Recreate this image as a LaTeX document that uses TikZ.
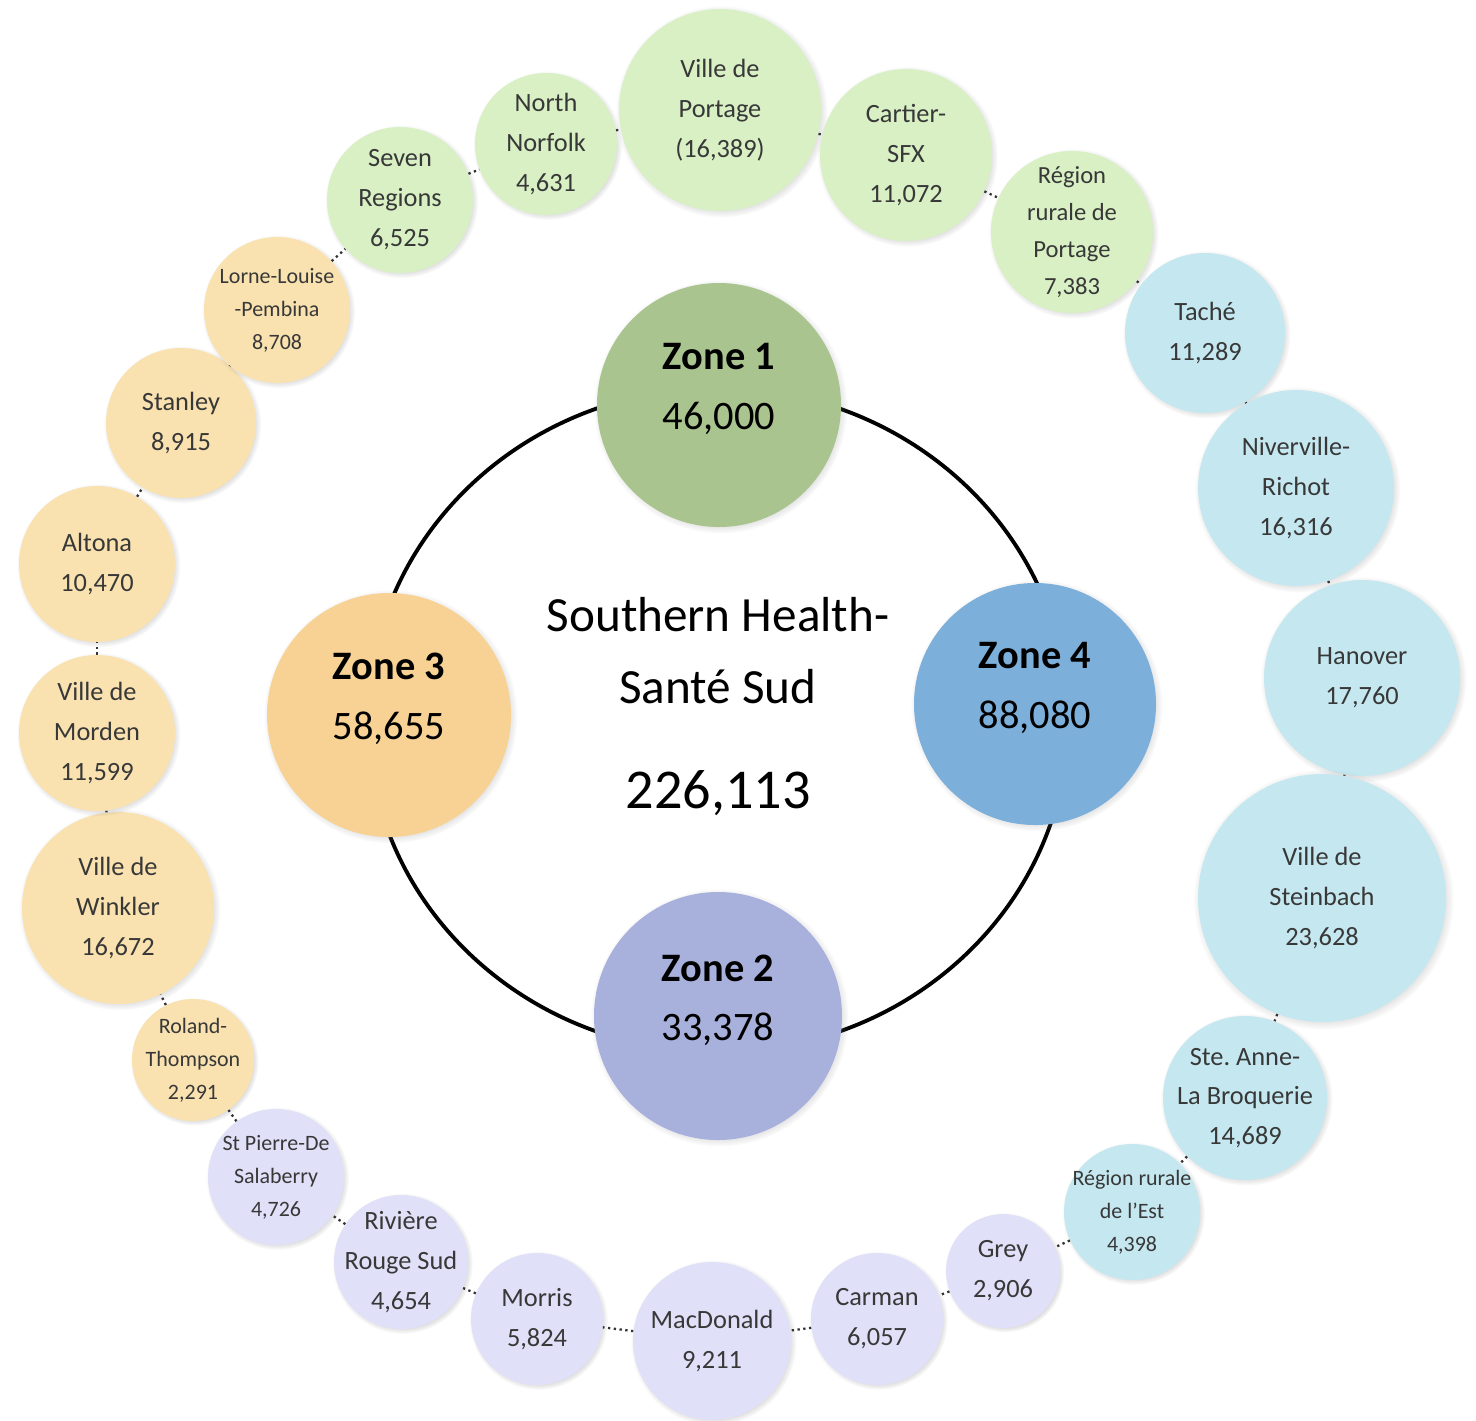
\documentclass[tikz,border=0pt]{standalone}
\usepackage{fontspec}
\setmainfont{Carlito}
\usepackage{tikz}
\usetikzlibrary{shadows,calc}
\frenchspacing
\newcommand{\pxunit}{0.02cm}
\newcommand{\townfont}{\fontsize{15}{22.7}\selectfont}
\newcommand{\smalltownfont}{\fontsize{12.5}{18.7}\selectfont}
\newcommand{\zonefont}{\fontsize{23}{34}\selectfont}
\definecolor{zoneone}{HTML}{A9C48E}
\definecolor{zonetwo}{HTML}{A8B0DC}
\definecolor{zonethree}{HTML}{F7D294}
\definecolor{zonefour}{HTML}{7DAFDB}
\definecolor{townone}{HTML}{D8F0C4}
\definecolor{towntwo}{HTML}{E0E0F8}
\definecolor{townthree}{HTML}{F9E2B0}
\definecolor{townfour}{HTML}{C5E8F0}
\definecolor{towntext}{HTML}{383838}
\tikzset{
    node style town/.style={circle,inner sep=-1cm,align=center,text=towntext,font=\townfont,
        circular drop shadow={shadow xshift=0.8pt,shadow yshift=-0.8pt,shadow scale=1.05,opacity=0.45}},
    node style zone/.style={circle,inner sep=0pt,
        circular drop shadow={shadow xshift=0.8pt,shadow yshift=-0.8pt,shadow scale=1.04,opacity=0.5}},
    node style zone text/.style={align=center,font=\zonefont,inner sep=0pt},
    line style link/.style={dotted,line width=1.3pt,black!80},
}

\begin{document}
\begin{tikzpicture}[x=\pxunit,y=-\pxunit]
  \useasboundingbox (0,0) rectangle (1476,1420);

  % the ring joining the four zones
  \draw [line width=2.2pt] (718,720) ellipse [x radius=350, y radius=332];

  \node [node style zone,fill=zoneone,minimum size=244*\pxunit] (zone1) at (719,405) {};
  \node [node style zone,fill=zonethree,minimum size=244*\pxunit] (zone3) at (389,715) {};
  \node [node style zone,fill=zonefour,minimum size=242*\pxunit] (zone4) at (1035,704) {};
  \node [node style zone,fill=zonetwo,minimum size=248*\pxunit] (zone2) at (718,1016) {};

  \node [node style zone text] (zone1 text) at ([yshift=9pt]zone1.center) {\textbf{Zone 1}\\46,000};
  \node [node style zone text] (zone3 text) at ([yshift=9pt]zone3.center) {\textbf{Zone 3}\\58,655};
  \node [node style zone text] (zone4 text) at ([yshift=9pt]zone4.center) {\textbf{Zone 4}\\88,080};
  \node [node style zone text] (zone2 text) at ([yshift=9pt]zone2.center) {\textbf{Zone 2}\\33,378};

  \node [align=center,font=\fontsize{28}{41}\selectfont] (title) at (718,651) {Southern Health-\\Santé Sud};
  \node [font=\fontsize{32}{38}\selectfont] (total) at (718,793) {226,113};

  % zone 1
  \node [node style town,fill=townone,minimum size=146*\pxunit] (sevenreg) at (400,200) {Seven\\Regions\\6,525};
  \node [node style town,fill=townone,minimum size=142*\pxunit] (nnorfolk) at (546,144) {North\\Norfolk\\4,631};
  \node [node style town,fill=townone,minimum size=202*\pxunit] (portage) at (720,110) {Ville de\\Portage\\(16,389)};
  \node [node style town,fill=townone,minimum size=172*\pxunit] (cartier) at (906,155) {Cartier-\\SFX\\11,072};
  \node [node style town,fill=townone,minimum size=162*\pxunit,font=\fontsize{14}{21}\selectfont] (rmportage) at (1072,232) {Région\\rurale de\\Portage\\7,383};
  % zone 4
  \node [node style town,fill=townfour,minimum size=160*\pxunit] (tache) at (1205,333) {Taché\\11,289};
  \node [node style town,fill=townfour,minimum size=196*\pxunit] (niverville) at (1296,488) {Niverville-\\Richot\\16,316};
  \node [node style town,fill=townfour,minimum size=196*\pxunit] (hanover) at (1362,678) {Hanover\\17,760};
  \node [node style town,fill=townfour,minimum size=248*\pxunit] (steinbach) at (1322,898) {Ville de\\Steinbach\\23,628};
  \node [node style town,fill=townfour,minimum size=164*\pxunit] (steanne) at (1245,1098) {Ste. Anne-\\La Broquerie\\14,689};
  \node [node style town,fill=townfour,minimum size=136*\pxunit,font=\smalltownfont] (rmest) at (1132,1212) {Région rurale\\de l'Est\\4,398};
  % zone 2
  \node [node style town,fill=towntwo,minimum size=114*\pxunit] (grey) at (1003,1271) {Grey\\2,906};
  \node [node style town,fill=towntwo,minimum size=132*\pxunit] (carman) at (877,1319) {Carman\\6,057};
  \node [node style town,fill=towntwo,minimum size=158*\pxunit] (macdonald) at (712,1341) {MacDonald\\9,211};
  \node [node style town,fill=towntwo,minimum size=132*\pxunit] (morris) at (537,1319) {Morris\\5,824};
  \node [node style town,fill=towntwo,minimum size=134*\pxunit] (rougesud) at (401,1262) {Rivière\\Rouge Sud\\4,654};
  \node [node style town,fill=towntwo,minimum size=136*\pxunit,font=\smalltownfont] (stpierre) at (276,1177) {St Pierre-De\\Salaberry\\4,726};
  % zone 3
  \node [node style town,fill=townthree,minimum size=122*\pxunit,font=\smalltownfont] (roland) at (193,1060) {Roland-\\Thompson\\2,291};
  \node [node style town,fill=townthree,minimum size=192*\pxunit] (winkler) at (118,908) {Ville de\\Winkler\\16,672};
  \node [node style town,fill=townthree,minimum size=156*\pxunit] (morden) at (97,733) {Ville de\\Morden\\11,599};
  \node [node style town,fill=townthree,minimum size=156*\pxunit] (altona) at (97,564) {Altona\\10,470};
  \node [node style town,fill=townthree,minimum size=150*\pxunit] (stanley) at (181,423) {Stanley\\8,915};
  \node [node style town,fill=townthree,minimum size=146*\pxunit,font=\smalltownfont] (lorne) at (277,310) {Lorne-Louise\\-Pembina\\8,708};

  \foreach \a/\b in {lorne/sevenreg,sevenreg/nnorfolk,nnorfolk/portage,portage/cartier,
      cartier/rmportage,rmportage/tache,tache/niverville,niverville/hanover,hanover/steinbach,
      steinbach/steanne,steanne/rmest,rmest/grey,grey/carman,carman/macdonald,macdonald/morris,
      morris/rougesud,rougesud/stpierre,stpierre/roland,roland/winkler,winkler/morden,
      morden/altona,altona/stanley,stanley/lorne}
    \draw [line style link] (\a) -- (\b);
\end{tikzpicture}
\end{document}
